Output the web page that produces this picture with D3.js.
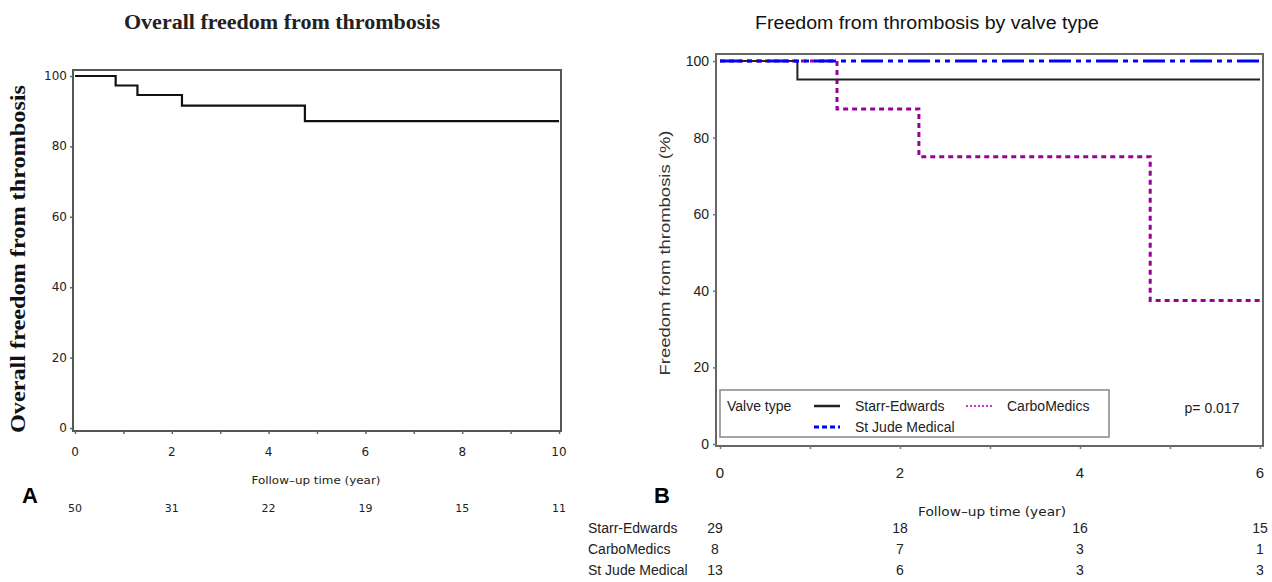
<!DOCTYPE html>
<html>
<head>
<meta charset="utf-8">
<script src="https://cdn.jsdelivr.net/npm/d3@7"></script>
<style>
  body { margin: 0; background: #fff; }
  svg { display: block; }
</style>
</head>
<body>
<script>

// panel A - overall
var overallYears   = [0, 0.84, 1.29, 2.21, 4.75, 10];
var overallFreedom = [100, 97.3, 94.6, 91.6, 87.2, 87.2];
var overallTicks   = [0, 2, 4, 6, 8, 10];
var overallAtRisk  = [50, 31, 22, 19, 15, 11];
var freedomTicks   = [0, 20, 40, 60, 80, 100];

// panel B - by valve type
var valveTypes     = ["Starr-Edwards", "CarboMedics", "St Jude Medical"];
var starrYears     = [0, 0.86, 6];
var starrFreedom   = [100, 95.2, 95.2];
var carboYears     = [0, 1.30, 2.21, 4.78, 6];
var carboFreedom   = [100, 87.5, 75, 37.5, 37.5];
var stJudeYears    = [0, 6.02];
var stJudeFreedom  = [100, 100];
var valveTicks     = [0, 2, 4, 6];
var starrAtRisk    = [29, 18, 16, 15];
var carboAtRisk    = [8, 7, 3, 1];
var stJudeAtRisk   = [13, 6, 3, 3];

var W = 1272, H = 582;

var svg = d3.select("body").append("svg")
    .attr("width", W)
    .attr("height", H);

svg.append("rect").attr("width", W).attr("height", H).attr("fill", "#fff");

function zip(xs, ys) {
  return xs.map(function(x, i) { return {t: x, s: ys[i]}; });
}

// ---------- Panel A ----------
var xA = d3.scaleLinear().domain([0, 10]).range([75, 559]);
var yA = d3.scaleLinear().domain([0, 100]).range([428, 76]);

var gA = svg.append("g");

gA.append("text")
    .attr("x", 282).attr("y", 29)
    .attr("text-anchor", "middle")
    .attr("textLength", 316).attr("lengthAdjust", "spacingAndGlyphs")
    .style("font-family", "Liberation Serif")
    .style("font-size", "20px")
    .style("font-weight", "bold")
    .style("fill", "#222")
    .text("Overall freedom from thrombosis");

gA.append("text")
    .attr("transform", "translate(25,259) rotate(-90)")
    .attr("text-anchor", "middle")
    .attr("textLength", 348).attr("lengthAdjust", "spacingAndGlyphs")
    .style("font-family", "Liberation Serif")
    .style("font-size", "20px")
    .style("font-weight", "bold")
    .style("fill", "#111")
    .text("Overall freedom from thrombosis");

gA.append("rect")
    .attr("x", 73).attr("y", 70)
    .attr("width", 488).attr("height", 361)
    .attr("fill", "none")
    .attr("stroke", "#555")
    .attr("stroke-width", 2);

var axA = gA.append("g")
    .attr("transform", "translate(0,431)")
    .call(d3.axisBottom(xA).tickValues(d3.range(0, 11)).tickSize(3).tickFormat(""));
axA.select(".domain").remove();
axA.selectAll("line").attr("stroke", "#666").attr("stroke-width", 1.5);

gA.selectAll(".xlabA")
    .data(overallTicks)
  .enter().append("text")
    .attr("x", function(d) { return xA(d); })
    .attr("y", 456)
    .attr("text-anchor", "middle")
    .style("font-family", "DejaVu Sans")
    .style("font-size", "12px")
    .style("fill", "#222")
    .text(function(d) { return d; });

var ayA = gA.append("g")
    .attr("transform", "translate(73,0)")
    .call(d3.axisLeft(yA).tickValues(freedomTicks).tickSize(3).tickFormat(""));
ayA.select(".domain").remove();
ayA.selectAll("line").attr("stroke", "#666").attr("stroke-width", 1.5);

gA.selectAll(".ylabA")
    .data(freedomTicks)
  .enter().append("text")
    .attr("x", 67)
    .attr("y", function(d) { return yA(d) + 4; })
    .attr("text-anchor", "end")
    .style("font-family", "DejaVu Sans")
    .style("font-size", "12px")
    .style("fill", "#222")
    .text(function(d) { return d; });

var stepA = d3.line()
    .x(function(d) { return xA(d.t); })
    .y(function(d) { return yA(d.s); })
    .curve(d3.curveStepAfter);

gA.append("path")
    .datum(zip(overallYears, overallFreedom))
    .attr("d", stepA)
    .attr("fill", "none")
    .attr("stroke", "#111")
    .attr("stroke-width", 2.2);

gA.append("text")
    .attr("x", 316).attr("y", 484)
    .attr("text-anchor", "middle")
    .attr("textLength", 129).attr("lengthAdjust", "spacingAndGlyphs")
    .style("font-family", "DejaVu Sans")
    .style("font-size", "11px")
    .style("fill", "#222")
    .text("Follow\u2013up time (year)");

gA.append("text")
    .attr("x", 30).attr("y", 503)
    .attr("text-anchor", "middle")
    .style("font-family", "Liberation Sans")
    .style("font-size", "22px")
    .style("font-weight", "bold")
    .style("fill", "#000")
    .text("A");

gA.selectAll(".riskA")
    .data(overallAtRisk)
  .enter().append("text")
    .attr("x", function(d, i) { return xA(overallTicks[i]); })
    .attr("y", 512)
    .attr("text-anchor", "middle")
    .style("font-family", "DejaVu Sans")
    .style("font-size", "11px")
    .style("fill", "#222")
    .text(function(d) { return d; });

// ---------- Panel B ----------
var xB = d3.scaleLinear().domain([0, 6]).range([720, 1260]);
var yB = d3.scaleLinear().domain([0, 100]).range([444, 61]);

var gB = svg.append("g");

gB.append("text")
    .attr("x", 927).attr("y", 29)
    .attr("text-anchor", "middle")
    .attr("textLength", 344).attr("lengthAdjust", "spacingAndGlyphs")
    .style("font-family", "Liberation Sans")
    .style("font-size", "18px")
    .style("fill", "#111")
    .text("Freedom from thrombosis by valve type");

gB.append("text")
    .attr("transform", "translate(670,253) rotate(-90)")
    .attr("text-anchor", "middle")
    .attr("textLength", 245).attr("lengthAdjust", "spacingAndGlyphs")
    .style("font-family", "Liberation Sans")
    .style("font-size", "15px")
    .style("fill", "#333")
    .text("Freedom from thrombosis (%)");

gB.append("rect")
    .attr("x", 716).attr("y", 54)
    .attr("width", 547).attr("height", 392)
    .attr("fill", "none")
    .attr("stroke", "#666")
    .attr("stroke-width", 2);

var axB = gB.append("g")
    .attr("transform", "translate(0,446)")
    .call(d3.axisBottom(xB).tickValues(d3.range(0, 7)).tickSize(3).tickFormat(""));
axB.select(".domain").remove();
axB.selectAll("line").attr("stroke", "#777").attr("stroke-width", 1.5);

gB.selectAll(".xlabB")
    .data(valveTicks)
  .enter().append("text")
    .attr("x", function(d) { return xB(d); })
    .attr("y", 478)
    .attr("text-anchor", "middle")
    .style("font-family", "Liberation Sans")
    .style("font-size", "15px")
    .style("fill", "#222")
    .text(function(d) { return d; });

var ayB = gB.append("g")
    .attr("transform", "translate(716,0)")
    .call(d3.axisLeft(yB).tickValues(freedomTicks).tickSize(3).tickFormat(""));
ayB.select(".domain").remove();
ayB.selectAll("line").attr("stroke", "#777").attr("stroke-width", 1.5);

gB.selectAll(".ylabB")
    .data(freedomTicks)
  .enter().append("text")
    .attr("x", 709)
    .attr("y", function(d) { return yB(d) + 5; })
    .attr("text-anchor", "end")
    .style("font-family", "Liberation Sans")
    .style("font-size", "14px")
    .style("fill", "#222")
    .text(function(d) { return d; });

var stepB = d3.line()
    .x(function(d) { return xB(d.t); })
    .y(function(d) { return yB(d.s); })
    .curve(d3.curveStepAfter);

var curves = [
  {name: valveTypes[1], data: zip(carboYears, carboFreedom),   color: "#990099", dash: "5,4",            width: 3},
  {name: valveTypes[0], data: zip(starrYears, starrFreedom),   color: "#222",    dash: null,             width: 2},
  {name: valveTypes[2], data: zip(stJudeYears, stJudeFreedom), color: "#0000ff", dash: "22,5,5,5,5,5",  width: 3.2}
];

gB.selectAll(".curve")
    .data(curves)
  .enter().append("path")
    .attr("class", "curve")
    .attr("d", function(d) { return stepB(d.data); })
    .attr("fill", "none")
    .attr("stroke", function(d) { return d.color; })
    .attr("stroke-width", function(d) { return d.width; })
    .attr("stroke-dasharray", function(d) { return d.dash; });

// legend
var lg = gB.append("g");
lg.append("rect")
    .attr("x", 720).attr("y", 390)
    .attr("width", 389).attr("height", 47)
    .attr("fill", "#fff")
    .attr("stroke", "#888")
    .attr("stroke-width", 1.5);

var lgFont = function(sel) {
  sel.style("font-family", "Liberation Sans").style("font-size", "14px").style("fill", "#222");
};

lg.append("text").attr("x", 727).attr("y", 411).text("Valve type").call(lgFont);

var legendItems = [
  {name: valveTypes[0], x: 814, y: 406, color: "#222",    dash: null,  width: 2.5},
  {name: valveTypes[1], x: 966, y: 406, color: "#cc33cc", dash: "2,2", width: 2},
  {name: valveTypes[2], x: 814, y: 427, color: "#0000ff", dash: "5,3", width: 3}
];

lg.selectAll(".lgline")
    .data(legendItems)
  .enter().append("line")
    .attr("x1", function(d) { return d.x; })
    .attr("x2", function(d) { return d.x + 26; })
    .attr("y1", function(d) { return d.y; })
    .attr("y2", function(d) { return d.y; })
    .attr("stroke", function(d) { return d.color; })
    .attr("stroke-width", function(d) { return d.width; })
    .attr("stroke-dasharray", function(d) { return d.dash; });

lg.selectAll(".lgtext")
    .data(legendItems)
  .enter().append("text")
    .attr("x", function(d) { return d.x + 41; })
    .attr("y", function(d) { return d.y + 5; })
    .text(function(d) { return d.name; })
    .call(lgFont);

gB.append("text")
    .attr("x", 1212).attr("y", 413)
    .attr("text-anchor", "middle")
    .text("p= 0.017")
    .call(lgFont);

gB.append("text")
    .attr("x", 992).attr("y", 516)
    .attr("text-anchor", "middle")
    .attr("textLength", 148).attr("lengthAdjust", "spacingAndGlyphs")
    .style("font-family", "DejaVu Sans")
    .style("font-size", "13px")
    .style("fill", "#222")
    .text("Follow\u2013up time (year)");

gB.append("text")
    .attr("x", 662).attr("y", 503)
    .attr("text-anchor", "middle")
    .style("font-family", "Liberation Sans")
    .style("font-size", "22px")
    .style("font-weight", "bold")
    .style("fill", "#000")
    .text("B");

// number at risk table
var riskRows = [
  {name: valveTypes[0], vals: starrAtRisk,  y: 533},
  {name: valveTypes[1], vals: carboAtRisk,  y: 554},
  {name: valveTypes[2], vals: stJudeAtRisk, y: 575}
];

var rows = gB.selectAll(".riskrow")
    .data(riskRows)
  .enter().append("g");

rows.append("text")
    .attr("x", 588)
    .attr("y", function(d) { return d.y; })
    .text(function(d) { return d.name; })
    .call(lgFont);

rows.selectAll(".riskval")
    .data(function(d) { return d.vals.map(function(v, i) { return {v: v, i: i, y: d.y}; }); })
  .enter().append("text")
    .attr("x", function(d) { return xB(valveTicks[d.i]) - (d.i === 0 ? 5 : 0); })
    .attr("y", function(d) { return d.y; })
    .attr("text-anchor", "middle")
    .text(function(d) { return d.v; })
    .call(lgFont);

</script>
</body>
</html>
